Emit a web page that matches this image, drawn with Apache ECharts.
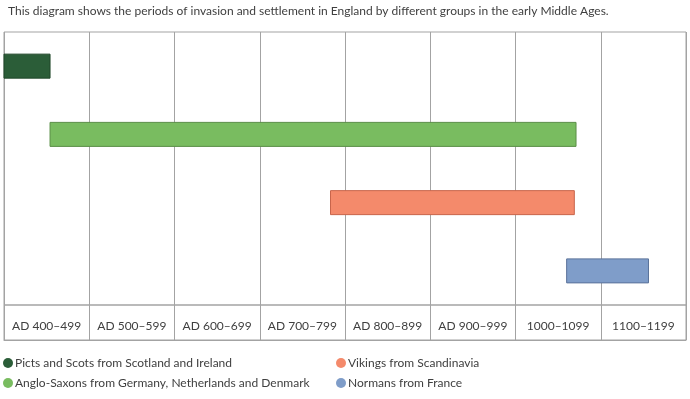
<!DOCTYPE html>
<html>
<head>
<meta charset="utf-8">
<script src="https://cdn.jsdelivr.net/npm/echarts@6/dist/echarts.min.js"></script>
<style>
  html, body { margin: 0; padding: 0; background: #fff; }
  #chart { width: 690px; height: 399px; }
</style>
</head>
<body>
<div id="chart"></div>
<script>
// periods (years) for each group
var groups = ['Picts and Scots from Scotland and Ireland',
              'Anglo-Saxons from Germany, Netherlands and Denmark',
              'Vikings from Scandinavia',
              'Normans from France'];
var starts = [400, 454, 783, 1060];
var ends   = [454, 1071, 1069, 1156];
var colors = ['#2b5d38', '#79bc60', '#f48a6b', '#7f9dc9'];
var borders = ['#1f4629', '#5b8f47', '#c8654b', '#5b739a'];
var periods = ['AD 400–499', 'AD 500–599', 'AD 600–699', 'AD 700–799',
               'AD 800–899', 'AD 900–999', '1000–1099', '1100–1199'];
var rows = ['r0', 'r1', 'r2', 'r3'];

var font = 'Lato, "Open Sans", sans-serif';
var lineColor = '#a3a3a3';

var myChart = echarts.init(document.getElementById('chart'));

var series = groups.map(function (name, i) {
    return {
        name: name,
        type: 'custom',
        xAxisIndex: 0,
        yAxisIndex: 0,
        itemStyle: { color: colors[i], borderColor: borders[i] },
        renderItem: function (params, api) {
            var p0 = api.coord([api.value(0), api.value(2)]);
            var p1 = api.coord([api.value(1), api.value(2)]);
            var h = 24;
            return {
                type: 'rect',
                shape: { x: p0[0], y: p0[1] - h / 2, width: p1[0] - p0[0], height: h },
                style: { fill: colors[i], stroke: borders[i], lineWidth: 1 }
            };
        },
        data: [[starts[i], ends[i], i]]
    };
});

var legendText = { fontSize: 12, color: '#404040', fontFamily: font, padding: [0, 0, 0, -3] };

var option = {
    animation: false,
    textStyle: { fontFamily: font },
    title: {
        text: 'This diagram shows the periods of invasion and settlement in England by different groups in the early Middle Ages.',
        left: 3,
        top: 0,
        textStyle: { fontSize: 12, fontWeight: 'normal', color: '#404040', fontFamily: font }
    },
    legend: [{
        data: [groups[0], groups[1]],
        orient: 'vertical',
        left: -2,
        top: 352,
        itemGap: 8,
        icon: 'circle',
        itemWidth: 10,
        itemHeight: 10,
        textStyle: legendText
    }, {
        data: [groups[2], groups[3]],
        orient: 'vertical',
        left: 331,
        top: 352,
        itemGap: 8,
        icon: 'circle',
        itemWidth: 10,
        itemHeight: 10,
        textStyle: legendText
    }],
    grid: [
        { left: 4, right: 4, top: 32, height: 273, show: true, borderColor: lineColor, borderWidth: 1 },
        { left: 4, right: 4, top: 305, height: 35, show: true, borderColor: lineColor, borderWidth: 1 }
    ],
    xAxis: [{
        type: 'value',
        gridIndex: 0,
        min: 400,
        max: 1200,
        interval: 100,
        axisLine: { show: false },
        axisTick: { show: false },
        axisLabel: { show: false },
        splitLine: { show: true, lineStyle: { color: lineColor, width: 1 } }
    }, {
        type: 'category',
        gridIndex: 1,
        data: periods,
        boundaryGap: true,
        axisLine: { show: true, lineStyle: { color: lineColor } },
        axisTick: { show: false },
        axisLabel: { inside: true, interval: 0, margin: 8, fontSize: 12, color: '#404040', fontFamily: font },
        splitLine: { show: true, interval: 0, lineStyle: { color: lineColor, width: 1 } }
    }],
    yAxis: [{
        type: 'category',
        gridIndex: 0,
        data: rows,
        inverse: true,
        axisLine: { show: false },
        axisTick: { show: false },
        axisLabel: { show: false },
        splitLine: { show: false }
    }, {
        type: 'value',
        gridIndex: 1,
        min: 0,
        max: 1,
        axisLine: { show: false },
        axisTick: { show: false },
        axisLabel: { show: false },
        splitLine: { show: false }
    }],
    series: series
};
myChart.setOption(option);
window.addEventListener('resize', myChart.resize);
</script>
</body>
</html>
